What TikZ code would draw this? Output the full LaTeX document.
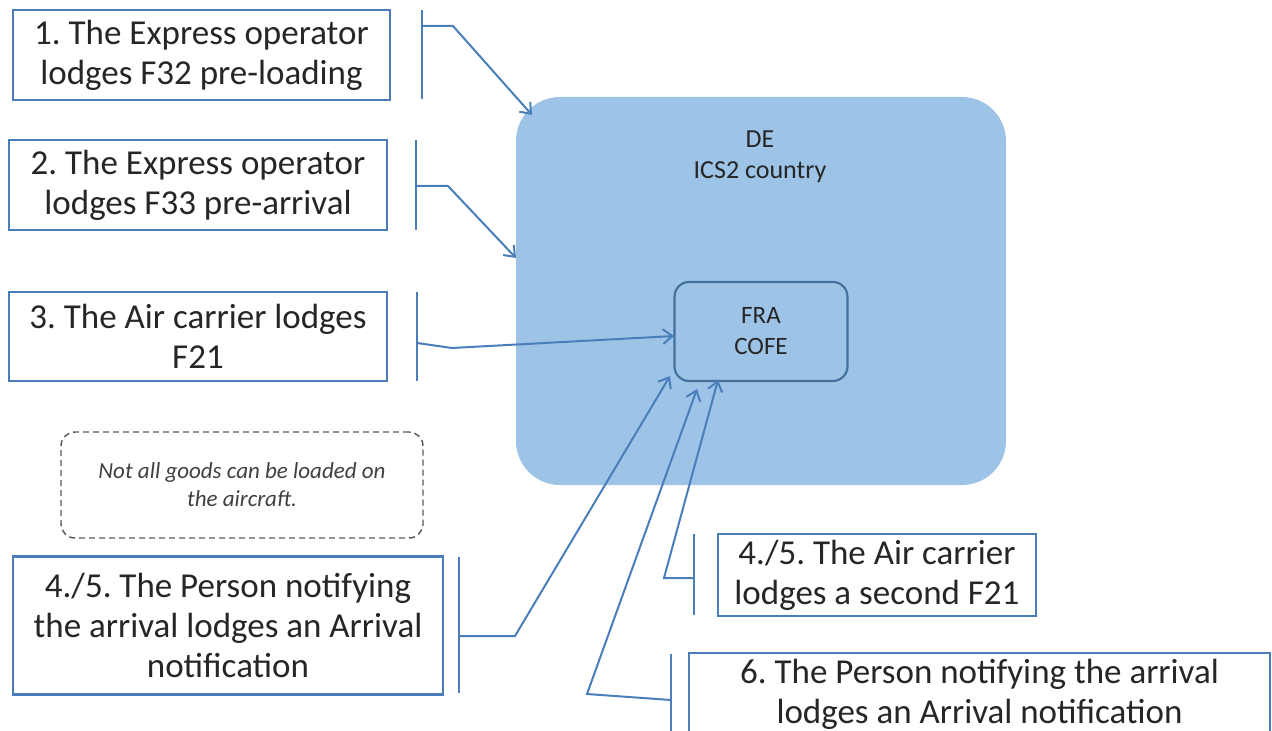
\documentclass[tikz,border=0pt]{standalone}
\usepackage{fontspec}
\setmainfont{Carlito}
\usetikzlibrary{arrows.meta}
\definecolor{defill}{HTML}{9DC3E6}
\definecolor{lineblue}{HTML}{4A7EBB}
\definecolor{frabd}{HTML}{41719C}
\definecolor{txt}{HTML}{262626}
\definecolor{notetxt}{HTML}{404040}
\definecolor{dashgray}{HTML}{595959}
\frenchspacing
\begin{document}
\begin{tikzpicture}[x=0.75pt,y=-0.75pt,
  box/.style={draw=lineblue, line width=1.6pt, fill=white, align=center, text=txt, inner sep=0pt,
    font=\fontsize{26.25}{30}\selectfont},
  conn/.style={draw=lineblue, line width=1.5pt, -{Straight Barb[length=7pt,width=11pt]}},
  bracket/.style={draw=lineblue, line width=1.5pt},
]
\useasboundingbox (0,0) rectangle (1272,731);
\clip (0,0) rectangle (1272,731);

% DE country
\node[fill=defill, rounded corners=33pt, minimum width=367.5pt, minimum height=291pt, inner sep=0pt] (de) at (761,291) {};
\node[align=center, text=txt, font=\fontsize{19.5}{23.25}\selectfont] (detxt) at (760,157) {DE\\ICS2 country};

% FRA COFE
\node[draw=frabd, line width=1.6pt, rounded corners=11pt, minimum width=129.75pt, minimum height=74.25pt,
  inner sep=0pt, align=center, text=txt, font=\fontsize{18.75}{23.25}\selectfont] (fra) at (761,331.5) {FRA\\COFE};

% boxes
\node[box, minimum width=282.75pt, minimum height=67.5pt] (b1) at (201.5,55) {1. The Express operator\\lodges F32 pre-loading};
\node[box, minimum width=283.5pt, minimum height=67.5pt] (b2) at (198,185) {2. The Express operator\\lodges F33 pre-arrival};
\node[box, minimum width=283.5pt, minimum height=66.75pt] (b3) at (198,336.5) {3. The Air carrier lodges\\F21};
\node[draw=dashgray, line width=1.1pt, dash pattern=on 4.5pt off 3pt, rounded corners=10.5pt,
  minimum width=271.5pt, minimum height=79.5pt, inner sep=0pt, align=center, text=notetxt,
  font=\fontsize{17.25}{21}\selectfont\itshape] (note) at (242,485) {Not all goods can be loaded on\\the aircraft.};
\node[box, minimum width=322.5pt, minimum height=103.5pt] (b4) at (228,625.5) {4./5. The Person notifying\\the arrival lodges an Arrival\\notification};
\node[box, minimum width=238.5pt, minimum height=61.5pt] (b5) at (877,575) {4./5. The Air carrier\\lodges a second F21};
\node[box, minimum width=435.75pt, minimum height=66pt] (b6) at (979.5,697) {};
\node[align=center, text=txt, inner sep=0pt, font=\fontsize{26.25}{30}\selectfont] (b6txt) at (979.5,694) {6. The Person notifying the arrival\\lodges an Arrival notification};

% bracket coordinates
\coordinate (k1a) at (422,10);  \coordinate (k1b) at (422,99);  \coordinate (k1m) at (422,26);  \coordinate (k1e) at (453,26);  \coordinate (t1) at (532,115);
\coordinate (k2a) at (416,140); \coordinate (k2b) at (416,230); \coordinate (k2m) at (416,186); \coordinate (k2e) at (448,186); \coordinate (t2) at (516,258);
\coordinate (k3a) at (417,292); \coordinate (k3b) at (417,381); \coordinate (k3m) at (417,343); \coordinate (k3e) at (452,348); \coordinate (t3) at (674,336);
\coordinate (k4a) at (459,557); \coordinate (k4b) at (459,693); \coordinate (k4m) at (459,636); \coordinate (k4e) at (515,636); \coordinate (t4) at (670,376);
\coordinate (k5a) at (694,534); \coordinate (k5b) at (694,615); \coordinate (k5m) at (694,578); \coordinate (k5e) at (664,578); \coordinate (t5) at (718,380);
\coordinate (k6a) at (671,654); \coordinate (k6b) at (671,740); \coordinate (k6m) at (671,700); \coordinate (k6e) at (587,694); \coordinate (t6) at (697,389);

\foreach \i in {1,...,6}{
  \draw[bracket] (k\i a) -- (k\i b);
  \draw[conn] (k\i m) -- (k\i e) -- (t\i);
}
\end{tikzpicture}
\end{document}
